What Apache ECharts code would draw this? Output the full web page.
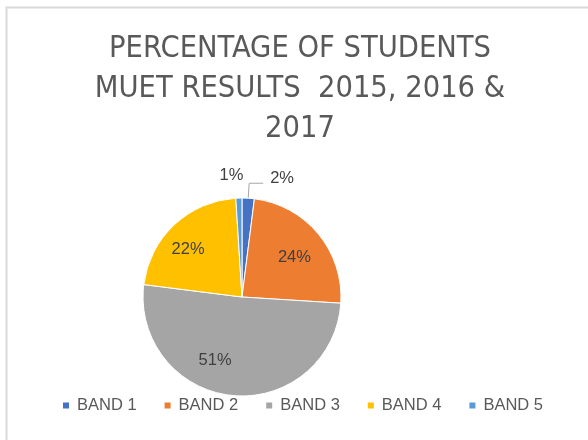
<!DOCTYPE html>
<html>
<head>
<meta charset="utf-8">
<script src="https://cdn.jsdelivr.net/npm/echarts@6/dist/echarts.min.js"></script>
<style>
html,body{margin:0;padding:0;background:#fff;}
#chart{width:588px;height:440px;}
</style>
</head>
<body>
<div id="chart"></div>
<script>
var titleText = 'PERCENTAGE OF STUDENTS\nMUET RESULTS  2015, 2016 &\n2017';
var categories = ['BAND 1', 'BAND 2', 'BAND 3', 'BAND 4', 'BAND 5'];
var values = [2, 24, 51, 22, 1];
var colors = ['#4472C4', '#ED7D31', '#A5A5A5', '#FFC000', '#5B9BD5'];

var outsideIdx = [0, 4];
var labelNudge = {0: [2, -5], 1: [12, -6], 2: [-22, 11], 3: [-18, -9], 4: [10, -8]};

var data = categories.map(function (c, i) {
  var item = { name: c, value: values[i], itemStyle: { color: colors[i] } };
  if (outsideIdx.indexOf(i) >= 0) {
    item.label = { position: 'outside' };
    item.labelLine = { show: i === 0, length: 15, length2: i === 0 ? 14 : 0 };
  } else {
    item.label = { position: 'inside' };
  }
  return item;
});

var chart = echarts.init(document.getElementById('chart'));
chart.setOption({
  animation: false,
  backgroundColor: '#fff',
  graphic: [{
    type: 'rect', left: 4, top: 5,
    shape: { width: 640, height: 500 },
    style: { fill: 'none', stroke: '#d9d9d9', lineWidth: 2 }
  }],
  title: {
    text: titleText,
    left: 295, top: 24, textAlign: 'center',
    textStyle: {
      fontFamily: '"DejaVu Sans Condensed", Roboto, "Liberation Sans", sans-serif',
      fontSize: 30.5, fontWeight: 'normal', color: '#595959', lineHeight: 40
    }
  },
  legend: {
    data: categories,
    left: 56, top: 392,
    icon: 'rect', itemWidth: 8, itemHeight: 8, itemGap: 26,
    textStyle: {
      fontFamily: '"Liberation Sans", Arial, sans-serif',
      fontSize: 16.5, color: '#595959', padding: [0, 0, 0, 2]
    }
  },
  series: [{
    type: 'pie',
    center: [242, 297],
    radius: 99,
    startAngle: 90,
    clockwise: true,
    avoidLabelOverlap: false,
    itemStyle: { borderColor: '#fff', borderWidth: 1 },
    label: {
      formatter: '{d}%',
      fontFamily: '"Liberation Sans", Arial, sans-serif',
      fontSize: 16.5, color: '#404040'
    },
    labelLine: { lineStyle: { color: '#a6a6a6', width: 1 } },
    labelLayout: function (p) {
      var n = labelNudge[p.dataIndex];
      return n ? { dx: n[0], dy: n[1] } : {};
    },
    emphasis: { disabled: true },
    data: data
  }]
});
</script>
</body>
</html>
